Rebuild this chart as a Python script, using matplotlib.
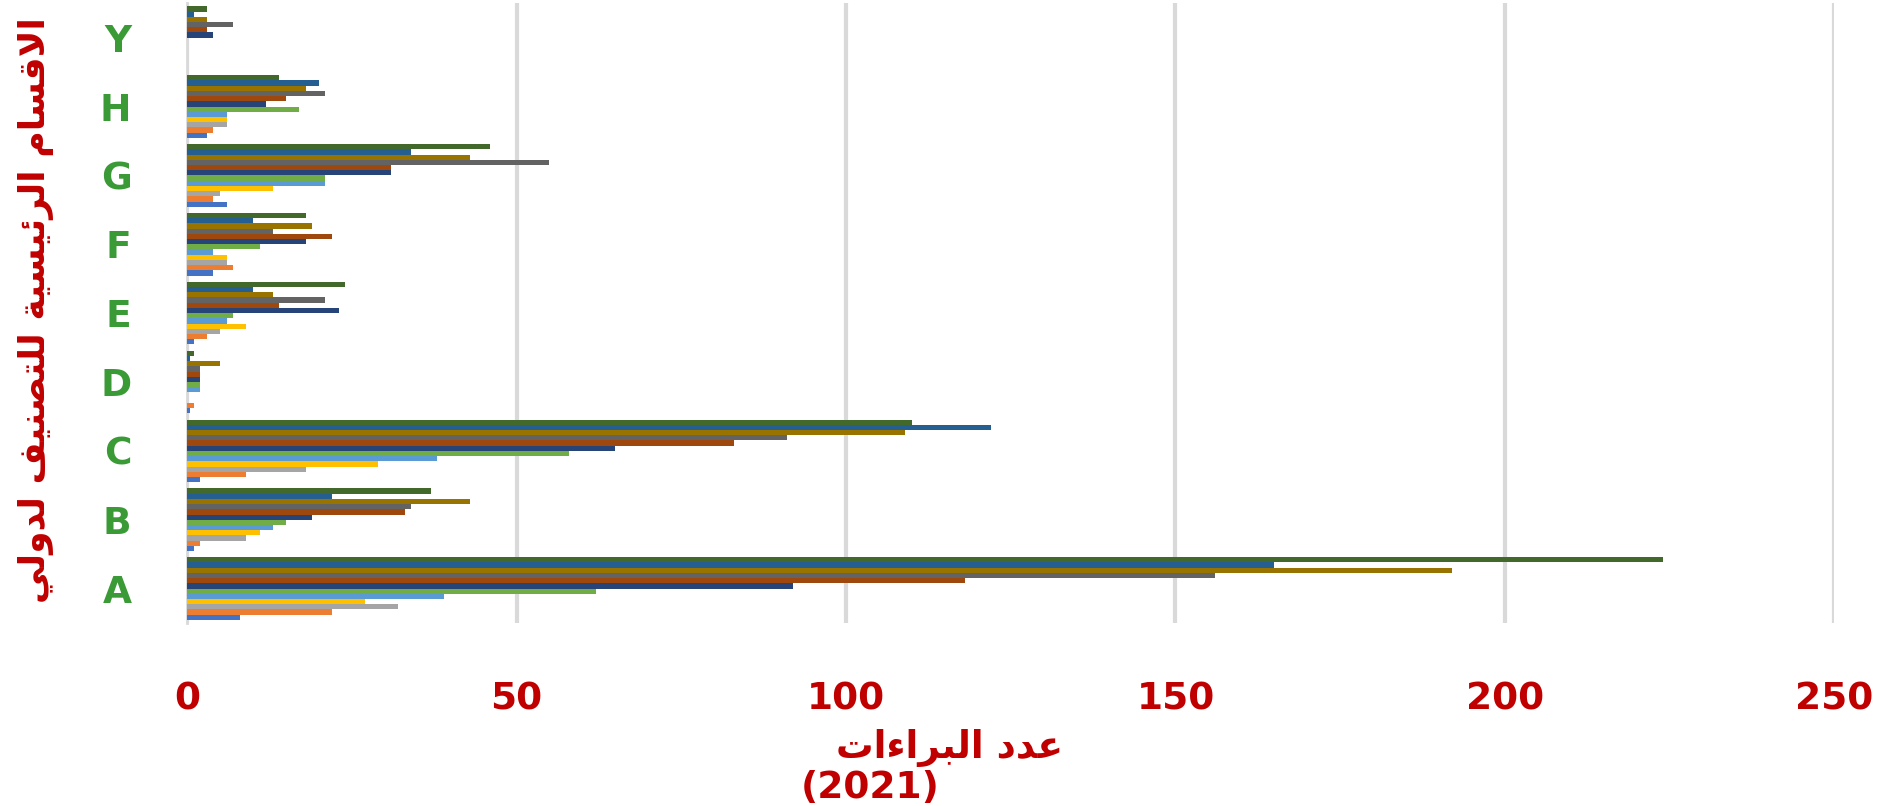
import numpy as np
import matplotlib
matplotlib.use('Agg')
import matplotlib.pyplot as plt

# Категории (снизу вверх) и значения 12 серий
categories = ['A', 'B', 'C', 'D', 'E', 'F', 'G', 'H', 'Y']
s1 = [8, 1, 2, 0.5, 1, 4, 6, 3, 0]
s2 = [22, 2, 9, 1, 3, 7, 4, 4, 0]
s3 = [32, 9, 18, 0, 5, 6, 5, 6, 0]
s4 = [27, 11, 29, 0, 9, 6, 13, 6, 0]
s5 = [39, 13, 38, 2, 6, 4, 21, 6, 0]
s6 = [62, 15, 58, 2, 7, 11, 21, 17, 0]
s7 = [92, 19, 65, 2, 23, 18, 31, 12, 4]
s8 = [118, 33, 83, 2, 14, 22, 31, 15, 3]
s9 = [156, 34, 91, 2, 21, 13, 55, 21, 7]
s10 = [192, 43, 109, 5, 13, 19, 43, 18, 3]
s11 = [165, 22, 122, 0.5, 10, 10, 34, 20, 1]
s12 = [224, 37, 110, 1, 24, 18, 46, 14, 3]
series = [s1, s2, s3, s4, s5, s6, s7, s8, s9, s10, s11, s12]
colors = ['#4472C4', '#ED7D31', '#A5A5A5', '#FFC000', '#5B9BD5', '#70AD47',
          '#264478', '#9E480E', '#636363', '#997300', '#255E91', '#43682B']
xticks = [0, 50, 100, 150, 200, 250]

ylabel_text = 'الاقسام الرئيسية للتصنيف لدولي'
xlabel_text = 'عدد البراءات'
xlabel_year = '(2021)'

# Простое соединение арабских букв (isolated, final, initial, medial)
forms = {
    'ا': ('\uFE8D', '\uFE8E', None, None),
    'ب': ('\uFE8F', '\uFE90', '\uFE91', '\uFE92'),
    'ة': ('\uFE93', '\uFE94', None, None),
    'ت': ('\uFE95', '\uFE96', '\uFE97', '\uFE98'),
    'د': ('\uFEA9', '\uFEAA', None, None),
    'ر': ('\uFEAD', '\uFEAE', None, None),
    'س': ('\uFEB1', '\uFEB2', '\uFEB3', '\uFEB4'),
    'ص': ('\uFEB9', '\uFEBA', '\uFEBB', '\uFEBC'),
    'ع': ('\uFEC9', '\uFECA', '\uFECB', '\uFECC'),
    'ف': ('\uFED1', '\uFED2', '\uFED3', '\uFED4'),
    'ق': ('\uFED5', '\uFED6', '\uFED7', '\uFED8'),
    'ل': ('\uFEDD', '\uFEDE', '\uFEDF', '\uFEE0'),
    'م': ('\uFEE1', '\uFEE2', '\uFEE3', '\uFEE4'),
    'ن': ('\uFEE5', '\uFEE6', '\uFEE7', '\uFEE8'),
    'و': ('\uFEED', '\uFEEE', None, None),
    'ي': ('\uFEF1', '\uFEF2', '\uFEF3', '\uFEF4'),
    'ئ': ('\uFE89', '\uFE8A', '\uFE8B', '\uFE8C'),
    'ء': ('\uFE80', None, None, None),
}


def joins_next(c):
    return c in forms and forms[c][2] is not None


def shape(text):
    out = []
    chars = list(text)
    i = 0
    while i < len(chars):
        c = chars[i]
        prev = chars[i - 1] if i > 0 else ' '
        connected = joins_next(prev)
        if c == 'ل' and i + 1 < len(chars) and chars[i + 1] == 'ا':
            out.append('\uFEFC' if connected else '\uFEFB')
            i += 2
            continue
        if c not in forms:
            out.append(c)
            i += 1
            continue
        nxt = chars[i + 1] if i + 1 < len(chars) else ' '
        to_next = joins_next(c) and nxt in forms
        f = forms[c]
        if connected and to_next:
            out.append(f[3])
        elif connected and f[1] is not None:
            out.append(f[1])
        elif to_next:
            out.append(f[2])
        else:
            out.append(f[0])
        i += 1
    return ''.join(out)[::-1]


fig = plt.figure(figsize=(18.99, 8.06), dpi=100)
ax = fig.add_axes([0.0985, 0.227, 0.8675, 0.769])

n = len(series)
h = 0.91 / n
y = np.arange(len(categories))
for j in range(n):
    ax.barh(y - 0.455 + (j + 0.5) * h, series[j], height=h, color=colors[j], zorder=3)

ax.set_xlim(0, 250)
ax.set_ylim(-0.5, len(categories) - 0.5)
ax.set_xticks(xticks)
ax.set_yticks(y)
ax.set_yticklabels(categories)
ax.xaxis.grid(True, color='#D9D9D9', lw=3, zorder=0)
for s in ['top', 'right', 'bottom']:
    ax.spines[s].set_visible(False)
ax.spines['left'].set_color('#D9D9D9')
ax.spines['left'].set_linewidth(2)

ax.tick_params(axis='x', length=0, pad=42, labelsize=27, labelcolor='#C00000')
ax.tick_params(axis='y', length=0, pad=40, labelsize=27, labelcolor='#3A9A35')
for lab in ax.get_xticklabels() + ax.get_yticklabels():
    lab.set_fontweight('bold')

fig.text(0.019, 0.615, shape(ylabel_text), rotation=90, ha='center', va='center',
         fontsize=26, fontweight='bold', color='#C00000', family=['DejaVu Sans'])
fig.text(0.5, 0.072, shape(xlabel_text), ha='center', va='center',
         fontsize=27, fontweight='bold', color='#C00000', family=['DejaVu Sans'])
fig.text(0.458, 0.022, xlabel_year, ha='center', va='center',
         fontsize=27, fontweight='bold', color='#C00000')

fig.savefig('out.png', dpi=100)
